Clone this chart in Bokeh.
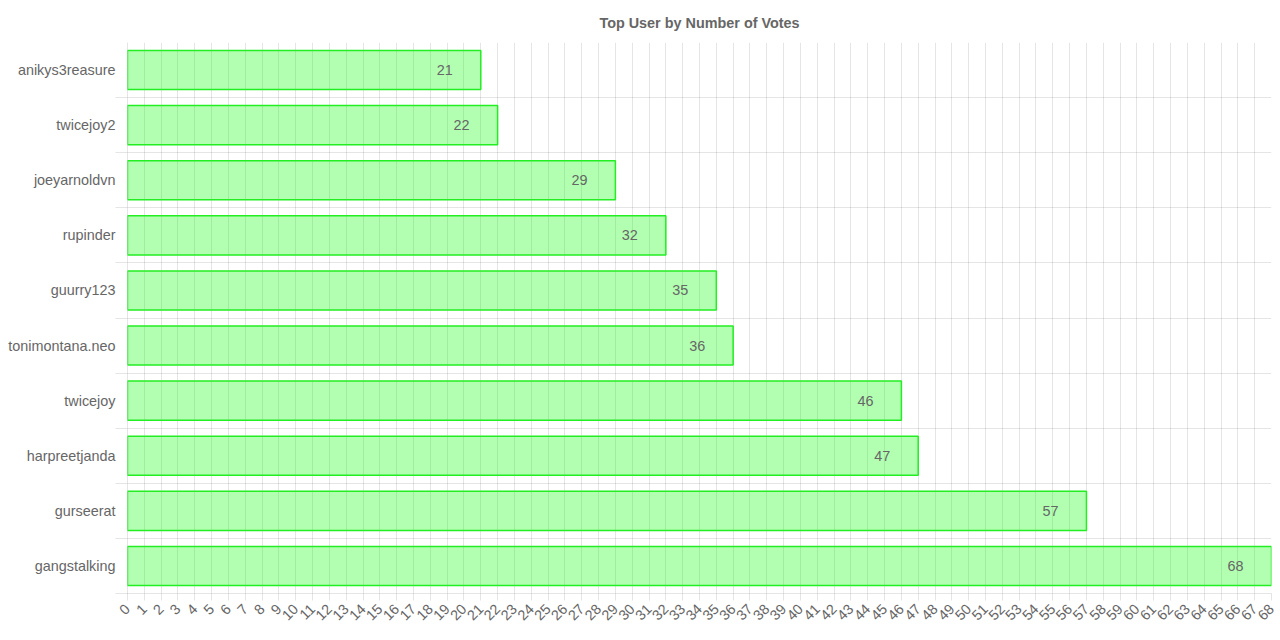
import math

from bokeh.plotting import figure
from bokeh.models import ColumnDataSource, FixedTicker, Range1d
from bokeh.core.properties import value
from bokeh.embed import file_html
from bokeh.resources import INLINE

# data, top to bottom as shown
users = ["anikys3reasure", "twicejoy2", "joeyarnoldvn", "rupinder", "guurry123",
         "tonimontana.neo", "twicejoy", "harpreetjanda", "gurseerat", "gangstalking"]
votes = [21, 22, 29, 32, 35, 36, 46, 47, 57, 68]
x_ticks = list(range(0, 69))

FONT = "Liberation Sans"
GREY = "#666666"
FS = "14.4px"


def main():
    n = len(users)
    # bottom category sits at y=0.5
    ypos = [n - i - 0.5 for i in range(n)]
    src = ColumnDataSource(data=dict(user=users, votes=votes, y=ypos,
                                     lbl=[str(v) for v in votes]))

    p = figure(title="Top User by Number of Votes",
               frame_width=1144, frame_height=551,
               min_border_left=127, min_border_right=8,
               min_border_top=15, min_border_bottom=26,
               x_range=Range1d(0, 68), y_range=Range1d(0, n),
               output_backend="svg", toolbar_location=None)
    p.outline_line_color = None
    p.background_fill_color = "white"

    p.title.align = "center"
    p.title.text_font = FONT
    p.title.text_font_size = FS
    p.title.text_font_style = "bold"
    p.title.text_color = GREY
    p.title.standoff = 24

    # grids: vertical at every integer, horizontal at category boundaries
    p.xgrid.ticker = FixedTicker(ticks=x_ticks)
    p.ygrid.ticker = FixedTicker(ticks=list(range(0, n)))
    for g in (p.xgrid, p.ygrid):
        g.grid_line_color = "#000000"
        g.grid_line_alpha = 0.1

    xa = p.xaxis[0]
    xa.ticker = FixedTicker(ticks=x_ticks)
    xa.major_label_orientation = math.pi / 4
    xa.major_label_text_font = FONT
    xa.major_label_text_font_size = FS
    xa.major_label_text_color = GREY
    xa.major_tick_in = 0
    xa.major_tick_out = 7
    xa.major_label_standoff = 6

    ya = p.yaxis[0]
    ya.ticker = FixedTicker(ticks=ypos, minor_ticks=list(range(0, n)))
    ya.major_label_overrides = {y: u for y, u in zip(ypos, users)}
    ya.major_label_text_font = FONT
    ya.major_label_text_font_size = FS
    ya.major_label_text_color = GREY
    ya.major_tick_in = 0
    ya.major_tick_out = 0
    ya.minor_tick_in = 0
    ya.minor_tick_out = 12
    ya.major_label_standoff = 0

    for ax in (xa, ya):
        ax.axis_line_color = "#000000"
        ax.axis_line_alpha = 0.1
        ax.major_tick_line_color = "#000000"
        ax.major_tick_line_alpha = 0.1
        ax.minor_tick_line_color = "#000000"
        ax.minor_tick_line_alpha = 0.1
    xa.minor_tick_line_color = None

    p.hbar(y="y", right="votes", left=0, height=0.71, source=src,
           fill_color="#00ff00", fill_alpha=0.3,
           line_color="#22ee22", line_width=1.5)

    p.text(x="votes", y="y", text="lbl", source=src, x_offset=-36,
           text_align="center", text_baseline="middle",
           text_font=value(FONT), text_font_size=FS, text_color=GREY)

    open("out.html", "w").write(file_html(p, INLINE))


if __name__ == "__main__":
    main()
